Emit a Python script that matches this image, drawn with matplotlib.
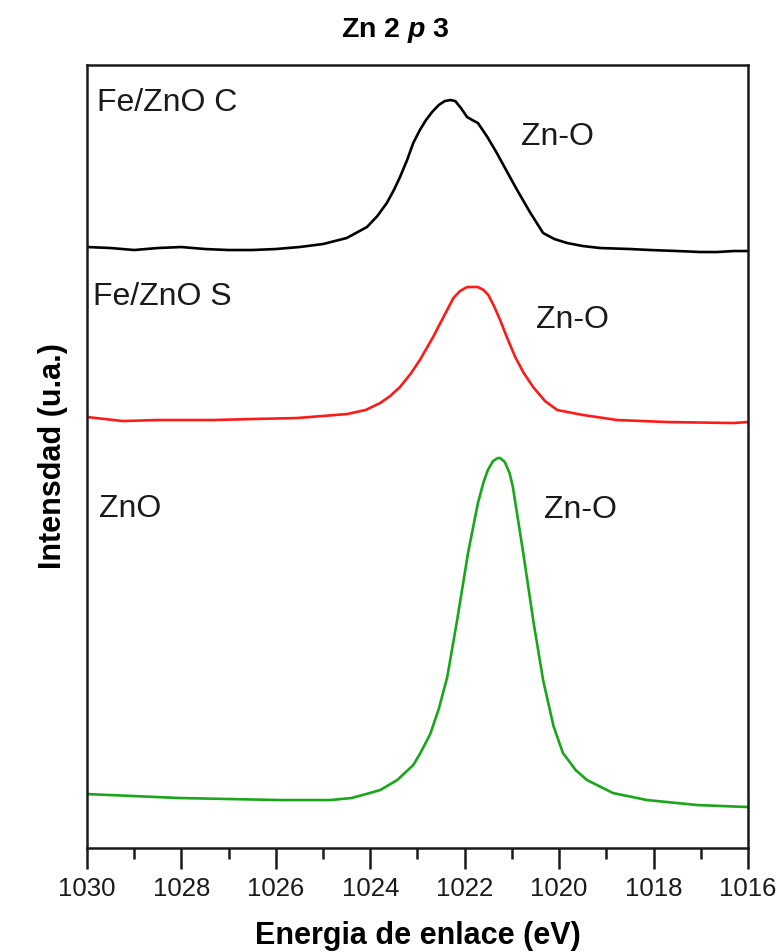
import matplotlib
matplotlib.use("Agg")
import matplotlib.pyplot as plt
from matplotlib.ticker import MultipleLocator

plt.rcParams['font.family'] = ['Liberation Sans', 'DejaVu Sans']
plt.rcParams['mathtext.fontset'] = 'custom'
plt.rcParams['mathtext.it'] = 'Liberation Sans:italic:bold'
plt.rcParams['mathtext.rm'] = 'Liberation Sans:bold'

# Zn 2p3/2 spectra (binding energy in eV, intensity in a.u.)
energy_c = [1030.0, 1029.5, 1029.0, 1028.5, 1028.0, 1027.5, 1027.0, 1026.5, 1026.0,
            1025.5, 1025.0, 1024.5, 1024.07, 1023.85, 1023.65, 1023.5, 1023.37,
            1023.22, 1023.09, 1022.95, 1022.82, 1022.69, 1022.55, 1022.42, 1022.3,
            1022.2, 1022.08, 1021.95, 1021.84, 1021.72, 1021.52, 1021.32, 1021.1,
            1020.89, 1020.62, 1020.34, 1020.1, 1019.83, 1019.5, 1019.13, 1018.5,
            1018.07, 1017.5, 1017.0, 1016.66, 1016.3, 1016.0]
int_c = [601, 600, 598, 600, 601, 599, 598, 598, 599,
         601, 604, 610, 621, 632, 645, 658, 671,
         688, 705, 718, 728, 736, 743, 747, 748,
         747, 740, 731, 728, 725, 711, 695, 676,
         658, 636, 615, 609, 605, 602, 600, 599,
         598, 597, 596, 596, 597, 597]

energy_s = [1030.0, 1029.24, 1028.5, 1027.33, 1026.5, 1025.55, 1024.49, 1024.1,
            1023.79, 1023.58, 1023.37, 1023.15, 1022.95, 1022.67, 1022.45, 1022.24,
            1022.1, 1021.95, 1021.72, 1021.6, 1021.5, 1021.38, 1021.25, 1021.1,
            1020.93, 1020.75, 1020.55, 1020.3, 1020.04, 1019.49, 1018.77, 1017.71,
            1016.31, 1016.0]
int_s = [431, 427, 428, 428, 429, 430, 434, 438,
         445, 452, 461, 474, 488, 511, 531, 550,
         557, 561, 561, 558, 553, 542, 528, 510,
         491, 475, 461, 447, 438, 433, 428, 426,
         425, 426]

energy_zno = [1030.0, 1028.03, 1025.91, 1024.85, 1024.4, 1024.01, 1023.79, 1023.43,
              1023.09, 1022.95, 1022.73, 1022.55, 1022.37, 1022.16, 1021.93, 1021.72,
              1021.6, 1021.51, 1021.4, 1021.3, 1021.25, 1021.15, 1021.05, 1020.98,
              1020.76, 1020.55, 1020.34, 1020.12, 1019.92, 1019.65, 1019.41, 1018.86,
              1018.14, 1017.08, 1016.0]
int_zno = [54, 50, 48, 48, 50, 55, 58, 68,
           83, 94, 114, 139, 171, 228, 295, 345,
           366, 378, 387, 390, 390, 386, 375, 361,
           295, 228, 168, 122, 95, 78, 68, 55,
           48, 43, 41]

sample_labels = ["Fe/ZnO C", "Fe/ZnO S", "ZnO"]
peak_label = "Zn-O"
x_ticks = [1030, 1028, 1026, 1024, 1022, 1020, 1018, 1016]

fig = plt.figure(figsize=(7.8, 9.52), dpi=100)
ax = fig.add_axes([0.1115, 0.1092, 0.8475, 0.8225])

ax.plot(energy_c, int_c, color='black', lw=1.9)
ax.plot(energy_s, int_s, color='#ff1a1a', lw=1.9)
ax.plot(energy_zno, int_zno, color='#1aa61a', lw=1.9)

txt = dict(fontsize=23, color='#1a1a1a', ha='left', va='center')
ax.text(1029.79, 745, sample_labels[0], **txt)
ax.text(1020.81, 711, peak_label, **txt)
ax.text(1029.87, 551, sample_labels[1], **txt)
ax.text(1020.49, 528, peak_label, **txt)
ax.text(1029.75, 339, sample_labels[2], **txt)
ax.text(1020.32, 338, peak_label, **txt)

ax.set_xlim(1030, 1016)
ax.set_ylim(0, 783)
ax.set_xticks(x_ticks)
ax.xaxis.set_minor_locator(MultipleLocator(1))
ax.set_yticks([])
ax.tick_params(axis='x', which='major', direction='out', length=15, width=1.8,
               labelsize=18.5, pad=6, colors='#1a1a1a')
ax.tick_params(axis='x', which='minor', direction='out', length=8, width=1.8,
               colors='#1a1a1a')
for sp in ax.spines.values():
    sp.set_linewidth(1.8)
    sp.set_color('#1a1a1a')

ax.set_xlabel("Energia de enlace (eV)", fontsize=22, fontweight='bold', labelpad=14)
ax.set_ylabel("Intensdad (u.a.)", fontsize=22, fontweight='bold', labelpad=14)
fig.text(0.507, 0.968, r"Zn 2 $p$ 3", fontsize=20.5, fontweight='bold',
         ha='center', va='center')

fig.savefig("out.png", dpi=100)
